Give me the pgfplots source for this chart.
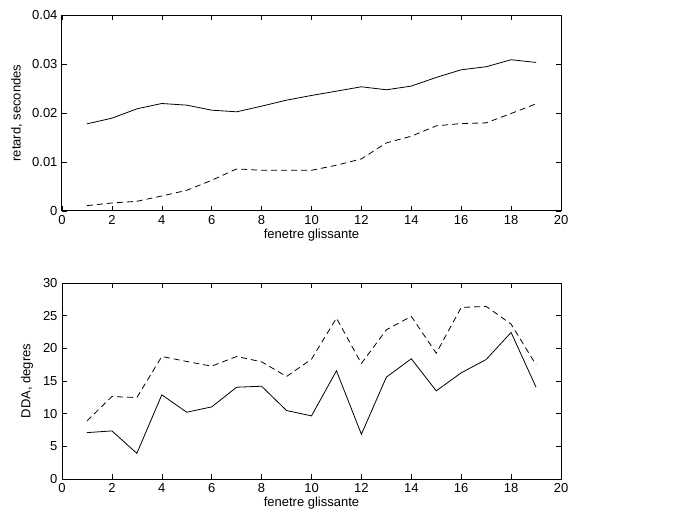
\documentclass[border=0pt]{standalone}
\usepackage{pgfplots}
\pgfplotsset{compat=1.18}
\usepackage{fontspec}
\setmainfont{Liberation Sans}
\begin{document}
\fontsize{13}{15}\selectfont
\begin{tikzpicture}[x=1pt,y=1pt]
\path[use as bounding box] (0,0) rectangle (677,-521);
\pgfplotsset{
  mystyle/.style={
    scale only axis, width=499pt, height=196pt,
    xmin=0, xmax=20, xtick={0,2,...,20},
    tick align=inside, major tick length=5pt,
    axis line style={line width=1pt},
    every tick/.style={black, line width=0.6pt},
    /pgf/number format/assume math mode=true,
    ticklabel style={font=\fontsize{13}{15}\selectfont},
    label style={font=\fontsize{13}{15}\selectfont},
    xlabel={fenetre glissante},
    xlabel style={yshift=5pt},
    ylabel style={yshift=1pt},
  },
  solidline/.style={black, line width=0.8pt, mark=none, solid},
  dashline/.style={black, line width=0.8pt, mark=none, dash pattern=on 6pt off 4pt},
}
\begin{axis}[mystyle, at={(62pt,-211pt)}, anchor=south west,
  ymin=0, ymax=0.04, ytick={0,0.01,0.02,0.03,0.04},
  scaled y ticks=false,
  yticklabel style={/pgf/number format/fixed, /pgf/number format/precision=2},
  ylabel={retard, secondes}]
\addplot[solidline] coordinates {(1,0.01779)(2,0.01894)(3,0.02085)(4,0.02194)(5,0.0216)(6,0.02058)(7,0.02024)(8,0.0214)(9,0.02262)(10,0.02358)(11,0.02446)(12,0.02535)(13,0.02474)(14,0.02549)(15,0.02726)(16,0.02882)(17,0.02944)(18,0.03087)(19,0.03032)};
\addplot[dashline] coordinates {(1,0.00109)(2,0.00164)(3,0.00198)(4,0.00307)(5,0.00422)(6,0.00627)(7,0.00859)(8,0.00831)(9,0.00831)(10,0.00831)(11,0.00934)(12,0.01063)(13,0.0139)(14,0.01526)(15,0.01738)(16,0.01785)(17,0.01799)(18,0.0199)(19,0.02187)};
\end{axis}
\begin{axis}[mystyle, at={(62pt,-479pt)}, anchor=south west,
  ymin=0, ymax=30, ytick={0,5,...,30},
  ylabel={DDA, degres}]
\addplot[solidline] coordinates {(1,7.10)(2,7.36)(3,3.93)(4,12.88)(5,10.22)(6,11.04)(7,14.05)(8,14.2)(9,10.48)(10,9.66)(11,16.56)(12,6.85)(13,15.59)(14,18.4)(15,13.49)(16,16.25)(17,18.29)(18,22.43)(19,14.05)};
\addplot[dashline] coordinates {(1,8.89)(2,12.62)(3,12.47)(4,18.75)(5,17.99)(6,17.27)(7,18.75)(8,17.94)(9,15.69)(10,18.34)(11,24.63)(12,17.68)(13,22.84)(14,24.89)(15,19.26)(16,26.26)(17,26.42)(18,23.71)(19,17.48)};
\end{axis}
\end{tikzpicture}
\end{document}
